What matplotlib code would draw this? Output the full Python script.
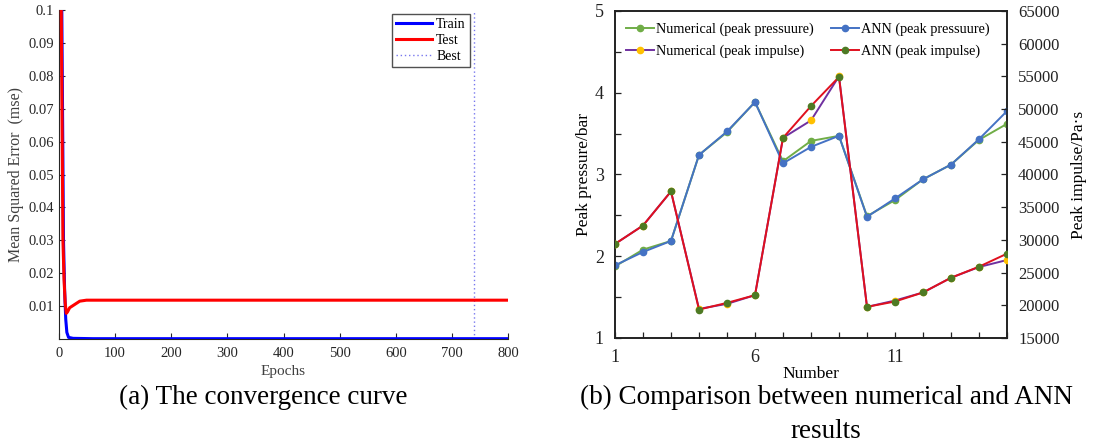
import matplotlib
matplotlib.use("Agg")
import matplotlib.pyplot as plt
from matplotlib.ticker import MultipleLocator, FixedLocator
import numpy as np

plt.rcParams['font.family'] = ['Liberation Serif', 'DejaVu Serif']
plt.rcParams['mathtext.fontset'] = 'stix'

# ---- (a) convergence curve data ----
epochs_train = [0, 5, 8, 10, 12, 14, 17, 25, 60, 800]
mse_train = [0.3, 0.1, 0.03, 0.015, 0.006, 0.002, 0.0005, 0.0002, 0.0001, 0.0001]
epochs_test = [0, 4, 7, 9, 11, 13, 15, 19, 28, 37, 49, 800]
mse_test = [0.3, 0.1, 0.03, 0.018, 0.011, 0.0078, 0.0082, 0.0095, 0.0105, 0.0115, 0.0118, 0.0118]
best_epoch = 739

# ---- (b) comparison data ----
number = list(range(1, 16))
num_pressure = [1.876, 2.081, 2.187, 3.239, 3.518, 3.886, 3.162, 3.411, 3.473, 2.490, 2.687, 2.941, 3.121, 3.424, 3.620]
ann_pressure = [1.889, 2.052, 2.187, 3.239, 3.526, 3.886, 3.137, 3.338, 3.473, 2.482, 2.707, 2.941, 3.121, 3.432, 3.776]
num_impulse = [29381, 32200, 37415, 19453, 20220, 21551, 45604, 48265, 55020, 19760, 20732, 21960, 24212, 25850, 26924]
ann_impulse = [29381, 32196, 37415, 19350, 20374, 21551, 45604, 50466, 54918, 19760, 20578, 21960, 24212, 25901, 27897]

fig = plt.figure(figsize=(11.06, 4.47), dpi=100)

# ================= (a) =================
ax1 = fig.add_axes([59/1106, 1-339/447, 449/1106, 329/447])
ax1.plot(epochs_train, mse_train, color='#0000FF', lw=2.2, label='Train', zorder=3)
ax1.plot(epochs_test, mse_test, color='#FF0000', lw=2.2, label='Test', zorder=4)
ax1.axvline(best_epoch, color='#7777EE', lw=1.0, ls=(0, (1, 2)), label='Best')
ax1.set_xlim(0, 800)
ax1.set_ylim(0, 0.1)
ax1.xaxis.set_major_locator(MultipleLocator(100))
ax1.yaxis.set_major_locator(FixedLocator([0.01*i for i in range(1, 11)]))
ax1.set_yticklabels(['0.01', '0.02', '0.03', '0.04', '0.05', '0.06', '0.07', '0.08', '0.09', '0.1'])
ax1.tick_params(direction='in', labelsize=10.5, colors='#262626', length=4, width=0.8)
ax1.tick_params(axis='x', pad=6)
for s in ['top', 'right']:
    ax1.spines[s].set_visible(False)
for s in ['left', 'bottom']:
    ax1.spines[s].set_color('#262626')
ax1.set_xlabel('Epochs', fontsize=11, color='#404040', labelpad=3)
ax1.set_ylabel('Mean Squared Error  (mse)', fontsize=11.5, color='#404040', labelpad=3)
leg1 = ax1.legend(loc='upper right', bbox_to_anchor=(0.915, 0.988), fontsize=10,
                  frameon=True, fancybox=False, edgecolor='#262626',
                  handlelength=2.6, handletextpad=0.3, borderpad=0.3, labelspacing=0.2,
                  borderaxespad=0)
leg1.get_frame().set_linewidth(1.0)

fig.text(263/1106, 1-397/447, '(a) The convergence curve', ha='center', va='center', fontsize=19.5)

# ================= (b) =================
ax2 = fig.add_axes([615/1106, 1-338/447, 392/1106, 327/447])
ax3 = ax2.twinx()
ms = 4.5
l1, = ax2.plot(number, num_pressure, color='#70AD47', lw=1.4, marker='o', ms=ms,
               mfc='#70AD47', mec='#70AD47', label='Numerical (peak pressuure)', zorder=3)
l2, = ax2.plot(number, ann_pressure, color='#4472C4', lw=1.4, marker='o', ms=ms,
               mfc='#4472C4', mec='#4472C4', label='ANN (peak pressuure)', zorder=4)
l3, = ax3.plot(number, num_impulse, color='#7030A0', lw=1.4, marker='o', ms=ms,
               mfc='#FFC000', mec='#FFC000', label='Numerical (peak impulse)', zorder=3)
l4, = ax3.plot(number, ann_impulse, color='#E0101E', lw=1.4, marker='o', ms=ms,
               mfc='#4E7A24', mec='#4E7A24', label='ANN (peak impulse)', zorder=4)

ax2.set_xlim(1, 15)
ax2.set_ylim(1, 5)
ax3.set_ylim(15000, 65000)
ax2.xaxis.set_major_locator(FixedLocator([1, 6, 11]))
ax2.xaxis.set_minor_locator(MultipleLocator(1))
ax2.yaxis.set_major_locator(MultipleLocator(1))
ax2.yaxis.set_minor_locator(MultipleLocator(0.5))
ax3.yaxis.set_major_locator(MultipleLocator(5000))
for a in (ax2, ax3):
    a.tick_params(which='both', direction='in', labelsize=13, length=4, width=0.9, colors='#222222')
    a.tick_params(which='minor', length=4)
    for s in a.spines.values():
        s.set_linewidth(1.2)
        s.set_color('#222222')
ax2.tick_params(axis='x', pad=8)
ax2.tick_params(axis='y', pad=8)
ax3.tick_params(axis='y', labelsize=12, pad=8)
ax2.set_xlabel('Number', fontsize=12.5, labelpad=0)
ax2.set_ylabel('Peak pressure/bar', fontsize=12.5, labelpad=2)
ax3.set_ylabel('Peak impulse/Pa·s', fontsize=12.5)
ax3.yaxis.set_label_coords(1.163, 0.5)

leg2 = ax2.legend(handles=[l1, l3, l2, l4], loc='upper left', ncol=2, frameon=False, fontsize=10.3,
                  bbox_to_anchor=(0.0, 1.0), handlelength=1.9, handletextpad=0.2, columnspacing=1.2,
                  labelspacing=0.6, borderaxespad=0.5, borderpad=0.3)
leg2.set_zorder(10)

fig.text(826/1106, 1-397/447, '(b) Comparison between numerical and ANN', ha='center', va='center', fontsize=19.5)
fig.text(826/1106, 1-432/447, 'results', ha='center', va='center', fontsize=19.5)

fig.savefig('out.png', dpi=100)
